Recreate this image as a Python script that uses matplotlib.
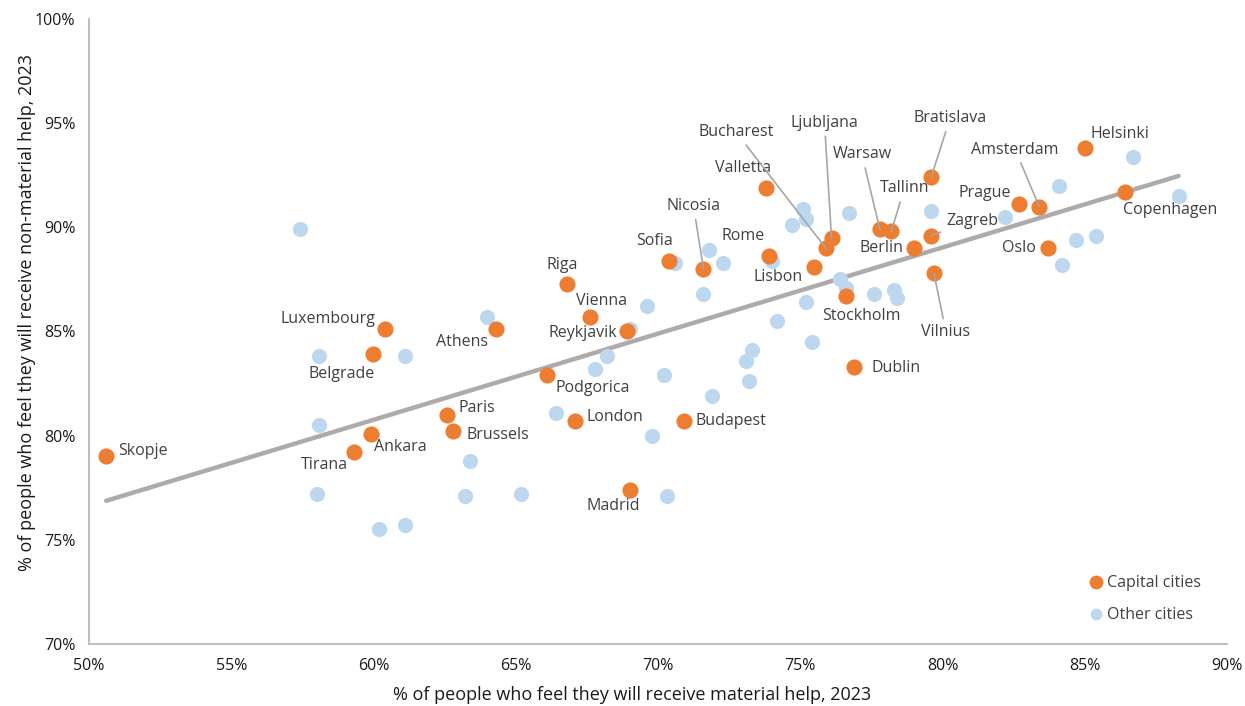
import numpy as np
import matplotlib.pyplot as plt
from matplotlib.lines import Line2D

plt.rcParams['font.family'] = ['Open Sans', 'DejaVu Sans']

# Capital cities (material help %, non-material help %)
cap_names = ['Skopje', 'Luxembourg', 'Belgrade', 'Ankara', 'Tirana', 'Paris', 'Brussels',
             'Athens', 'Riga', 'Vienna', 'Reykjavik', 'Podgorica', 'London', 'Madrid',
             'Budapest', 'Sofia', 'Nicosia', 'Valletta', 'Rome', 'Lisbon', 'Bucharest',
             'Ljubljana', 'Stockholm', 'Dublin', 'Warsaw', 'Tallinn', 'Berlin', 'Bratislava',
             'Zagreb', 'Vilnius', 'Prague', 'Amsterdam', 'Oslo', 'Helsinki', 'Copenhagen']
cap_x = [50.6, 60.4, 60.0, 59.9, 59.3, 62.6, 62.8,
         64.3, 66.8, 67.6, 68.9, 66.1, 67.1, 69.0,
         70.9, 70.4, 71.6, 73.8, 73.9, 75.5, 75.9,
         76.1, 76.6, 76.9, 77.8, 78.2, 79.0, 79.6,
         79.6, 79.7, 82.7, 83.4, 83.7, 85.0, 86.4]
cap_y = [79.0, 85.1, 83.9, 80.1, 79.2, 81.0, 80.2,
         85.1, 87.3, 85.7, 85.0, 82.9, 80.7, 77.4,
         80.7, 88.4, 88.0, 91.9, 88.6, 88.1, 89.0,
         89.5, 86.7, 83.3, 89.9, 89.8, 89.0, 92.4,
         89.6, 87.8, 91.1, 91.0, 89.0, 93.8, 91.7]

# Other cities
oth_x = [57.4, 58.1, 58.1, 58.0, 61.1, 60.2, 61.1, 64.0, 63.4, 63.2,
         65.2, 66.4, 67.8, 68.2, 69.0, 69.6, 69.8, 70.2, 70.3, 70.6,
         71.6, 71.8, 71.9, 72.3, 73.1, 73.2, 73.3, 74.0, 74.2, 74.7,
         75.1, 75.2, 75.2, 75.4, 76.7, 76.4, 76.6, 77.6, 78.3, 78.4,
         79.6, 82.2, 84.1, 84.7, 85.4, 84.2, 86.7, 88.3]
oth_y = [89.9, 83.8, 80.5, 77.2, 83.8, 75.5, 75.7, 85.7, 78.8, 77.1,
         77.2, 81.1, 83.2, 83.8, 85.1, 86.2, 80.0, 82.9, 77.1, 88.3,
         86.8, 88.9, 81.9, 88.3, 83.6, 82.6, 84.1, 88.4, 85.5, 90.1,
         90.9, 90.4, 86.4, 84.5, 90.7, 87.5, 87.1, 86.8, 87.0, 86.6,
         90.8, 90.5, 92.0, 89.4, 89.6, 88.2, 93.4, 91.5]

# label offsets (pixels), alignment, leader line
label_pos = {
    'Skopje': (12, 5, 'left', False), 'Luxembourg': (-10, 10, 'right', False),
    'Belgrade': (-32, -20, 'center', False), 'Ankara': (3, -13, 'left', False),
    'Tirana': (-29, -13, 'center', False), 'Paris': (11, 7, 'left', False),
    'Brussels': (13, -4, 'left', False), 'Athens': (-34, -13, 'center', False),
    'Riga': (-5, 19, 'center', False), 'Vienna': (12, 16, 'center', False),
    'Reykjavik': (-10, -2, 'right', False), 'Podgorica': (8, -13, 'left', False),
    'London': (11, 4, 'left', False), 'Madrid': (-16, -16, 'center', False),
    'Budapest': (12, 0, 'left', False), 'Sofia': (-15, 20, 'center', False),
    'Nicosia': (-10, 63, 'center', True), 'Valletta': (-23, 20, 'center', False),
    'Rome': (-26, 20, 'center', False), 'Lisbon': (-36, -10, 'center', False),
    'Bucharest': (-52, 116, 'right', True), 'Ljubljana': (-7, 115, 'center', True),
    'Stockholm': (16, -20, 'center', False), 'Dublin': (17, -1, 'left', False),
    'Warsaw': (-18, 75, 'center', True), 'Tallinn': (13, 43, 'center', True),
    'Berlin': (-11, 0, 'right', False), 'Bratislava': (19, 59, 'center', True),
    'Zagreb': (15, 15, 'left', True), 'Vilnius': (12, -59, 'center', True),
    'Prague': (-8, 11, 'right', False), 'Amsterdam': (-24, 57, 'center', True),
    'Oslo': (-12, 0, 'right', False), 'Helsinki': (6, 14, 'left', False),
    'Copenhagen': (-2, -18, 'left', False),
}

orange = '#ED7D31'
blue = '#BDD7EE'
txt = '#404040'

fig = plt.figure(figsize=(12.45, 7.06), dpi=100)
ax = fig.add_axes([0.0715, 0.088, 0.914, 0.885])

# trend line over all cities
all_x = np.array(cap_x + oth_x)
all_y = np.array(cap_y + oth_y)
k, b = np.polyfit(all_x, all_y, 1)
xl = np.array([all_x.min(), all_x.max()])
ax.plot(xl, k * xl + b, color='#AEAAAA', lw=3.2, solid_capstyle='round', zorder=1)

ax.scatter(oth_x, oth_y, s=120, color=blue, lw=0, zorder=2)
ax.scatter(cap_x, cap_y, s=135, color=orange, lw=0, zorder=3)

for n, x, y in zip(cap_names, cap_x, cap_y):
    dx, dy, ha, lead = label_pos[n]
    ap = None
    if lead:
        ap = dict(arrowstyle='-', color='#A6A6A6', lw=1.2, shrinkA=2, shrinkB=0)
    ax.annotate(n, (x, y), xytext=(dx, dy), textcoords='offset pixels',
                ha=ha, va='center', fontsize=11.5, color=txt, arrowprops=ap, zorder=4)

ax.set_xlim(50, 90)
ax.set_ylim(70, 100)
ax.set_xticks(np.arange(50, 91, 5))
ax.set_yticks(np.arange(70, 101, 5))
ax.set_xticklabels([f'{v}%' for v in range(50, 91, 5)])
ax.set_yticklabels([f'{v}%' for v in range(70, 101, 5)])
ax.tick_params(length=0, labelsize=11.5, colors='#1a1a1a', pad=10)
for s in ['top', 'right']:
    ax.spines[s].set_visible(False)
for s in ['left', 'bottom']:
    ax.spines[s].set_color('#BFBFBF')
    ax.spines[s].set_linewidth(1.5)

ax.set_xlabel('% of people who feel they will receive material help, 2023',
              fontsize=13, color='#1a1a1a')
ax.xaxis.set_label_coords(0.477, -0.068)
ax.set_ylabel('% of people who feel they will receive non-material help, 2023',
              fontsize=13, color='#1a1a1a')
ax.yaxis.set_label_coords(-0.047, 0.53)

handles = [Line2D([], [], ls='', marker='o', ms=10, mfc=orange, mec='none'),
           Line2D([], [], ls='', marker='o', ms=8.5, mfc=blue, mec='none')]
ax.legend(handles, ['Capital cities', 'Other cities'], loc='lower right',
          bbox_to_anchor=(0.99, 0.01), frameon=False, fontsize=11.5,
          handletextpad=0.2, handlelength=1.0, labelspacing=1.0,
          labelcolor=txt)

fig.savefig('out.png', dpi=100)
